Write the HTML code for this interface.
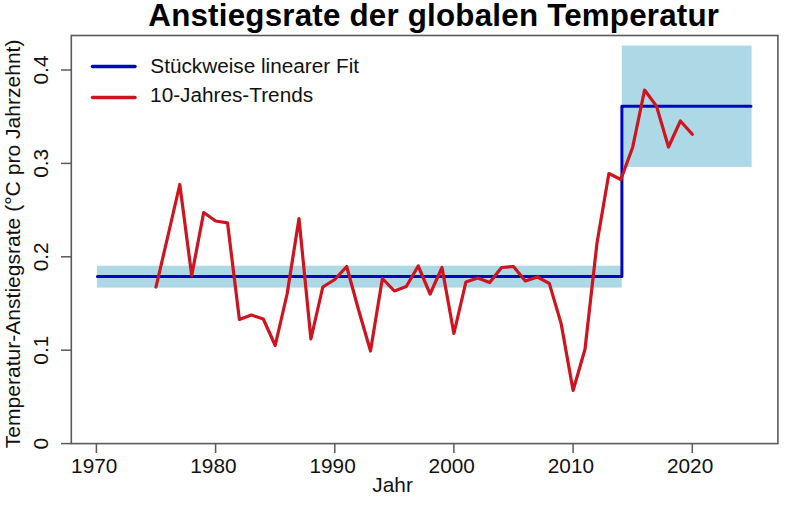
<!DOCTYPE html>
<html><head><meta charset="utf-8"><style>
html,body{margin:0;padding:0;background:#fff;width:800px;height:505px;overflow:hidden}
svg{display:block}
text{font-family:"Liberation Sans",sans-serif}
</style></head><body>
<svg width="800" height="505" viewBox="0 0 800 505">
<rect width="800" height="505" fill="#fff"/>
<rect x="96.9" y="265.7" width="524.8" height="21.9" fill="#ADD8E6"/>
<rect x="621.8" y="45.5" width="129.8" height="121.4" fill="#ADD8E6"/>
<polyline points="97.4,276.4 621.9,276.4 621.9,106.2 751.0,106.2" fill="none" stroke="#0008BE" stroke-width="3" stroke-linejoin="round" stroke-linecap="round"/>
<polyline points="156.0,287.0 167.9,236.0 179.8,184.5 191.7,275.5 203.7,212.5 215.6,221.0 227.5,222.8 239.4,319.5 251.3,315.0 263.3,319.0 275.2,345.5 287.1,294.0 299.0,218.5 310.9,339.0 322.8,287.0 334.8,279.5 346.7,266.5 358.6,310.0 370.5,351.0 382.4,278.5 394.4,291.0 406.3,286.5 418.2,266.0 430.1,294.0 442.0,267.5 453.9,333.5 465.9,282.0 477.8,278.0 489.7,282.5 501.6,267.5 513.5,266.5 525.4,281.0 537.4,277.0 549.3,283.4 561.2,323.9 573.1,390.5 585.0,349.3 597.0,243.0 608.9,173.5 620.8,179.5 632.7,147.2 644.6,90.0 656.5,106.1 668.5,147.0 680.4,121.0 692.3,134.2" fill="none" stroke="#CF1420" stroke-width="3.2" stroke-linejoin="round" stroke-linecap="round"/>
<rect x="71.3" y="35.5" width="706.6" height="408.1" fill="none" stroke="#5a5a5a" stroke-width="1.6"/>
<line x1="61" y1="443.6" x2="71.3" y2="443.6" stroke="#5a5a5a" stroke-width="1.5"/>
<text transform="translate(48.3,443.6) rotate(-90)" text-anchor="middle" font-family="Liberation Sans, sans-serif" font-size="20.8" fill="#111">0</text>
<line x1="61" y1="350.2" x2="71.3" y2="350.2" stroke="#5a5a5a" stroke-width="1.5"/>
<text transform="translate(48.3,350.2) rotate(-90)" text-anchor="middle" font-family="Liberation Sans, sans-serif" font-size="20.8" fill="#111">0.1</text>
<line x1="61" y1="256.8" x2="71.3" y2="256.8" stroke="#5a5a5a" stroke-width="1.5"/>
<text transform="translate(48.3,256.8) rotate(-90)" text-anchor="middle" font-family="Liberation Sans, sans-serif" font-size="20.8" fill="#111">0.2</text>
<line x1="61" y1="163.4" x2="71.3" y2="163.4" stroke="#5a5a5a" stroke-width="1.5"/>
<text transform="translate(48.3,163.4) rotate(-90)" text-anchor="middle" font-family="Liberation Sans, sans-serif" font-size="20.8" fill="#111">0.3</text>
<line x1="61" y1="70.0" x2="71.3" y2="70.0" stroke="#5a5a5a" stroke-width="1.5"/>
<text transform="translate(48.3,70.0) rotate(-90)" text-anchor="middle" font-family="Liberation Sans, sans-serif" font-size="20.8" fill="#111">0.4</text>
<line x1="96.4" y1="443.6" x2="96.4" y2="453" stroke="#5a5a5a" stroke-width="1.5"/>
<text x="94.2" y="473.4" text-anchor="middle" font-family="Liberation Sans, sans-serif" font-size="20.8" fill="#111">1970</text>
<line x1="215.6" y1="443.6" x2="215.6" y2="453" stroke="#5a5a5a" stroke-width="1.5"/>
<text x="213.4" y="473.4" text-anchor="middle" font-family="Liberation Sans, sans-serif" font-size="20.8" fill="#111">1980</text>
<line x1="334.8" y1="443.6" x2="334.8" y2="453" stroke="#5a5a5a" stroke-width="1.5"/>
<text x="332.6" y="473.4" text-anchor="middle" font-family="Liberation Sans, sans-serif" font-size="20.8" fill="#111">1990</text>
<line x1="453.9" y1="443.6" x2="453.9" y2="453" stroke="#5a5a5a" stroke-width="1.5"/>
<text x="451.7" y="473.4" text-anchor="middle" font-family="Liberation Sans, sans-serif" font-size="20.8" fill="#111">2000</text>
<line x1="573.1" y1="443.6" x2="573.1" y2="453" stroke="#5a5a5a" stroke-width="1.5"/>
<text x="570.9" y="473.4" text-anchor="middle" font-family="Liberation Sans, sans-serif" font-size="20.8" fill="#111">2010</text>
<line x1="692.3" y1="443.6" x2="692.3" y2="453" stroke="#5a5a5a" stroke-width="1.5"/>
<text x="690.1" y="473.4" text-anchor="middle" font-family="Liberation Sans, sans-serif" font-size="20.8" fill="#111">2020</text>
<text x="392.6" y="492.2" text-anchor="middle" font-family="Liberation Sans, sans-serif" font-size="20.8" fill="#111">Jahr</text>
<text transform="translate(19.9,243.9) rotate(-90)" text-anchor="middle" font-family="Liberation Sans, sans-serif" font-size="21.07" fill="#111">Temperatur-Anstiegsrate (°C pro Jahrzehnt)</text>
<text x="148.3" y="26.1" font-family="Liberation Sans, sans-serif" font-weight="bold" font-size="31.35" letter-spacing="0.2" fill="#000">Anstiegsrate der globalen Temperatur</text>
<line x1="92.5" y1="66.6" x2="135" y2="66.6" stroke="#0008BE" stroke-width="3.5" stroke-linecap="round"/>
<line x1="92.5" y1="97.6" x2="135" y2="97.6" stroke="#CF1420" stroke-width="3.5" stroke-linecap="round"/>
<text x="150.3" y="73.4" font-family="Liberation Sans, sans-serif" font-size="20.75" fill="#111">Stückweise linearer Fit</text>
<text x="150.1" y="101.5" font-family="Liberation Sans, sans-serif" font-size="20.75" fill="#111">10-Jahres-Trends</text>
</svg>
</body></html>
